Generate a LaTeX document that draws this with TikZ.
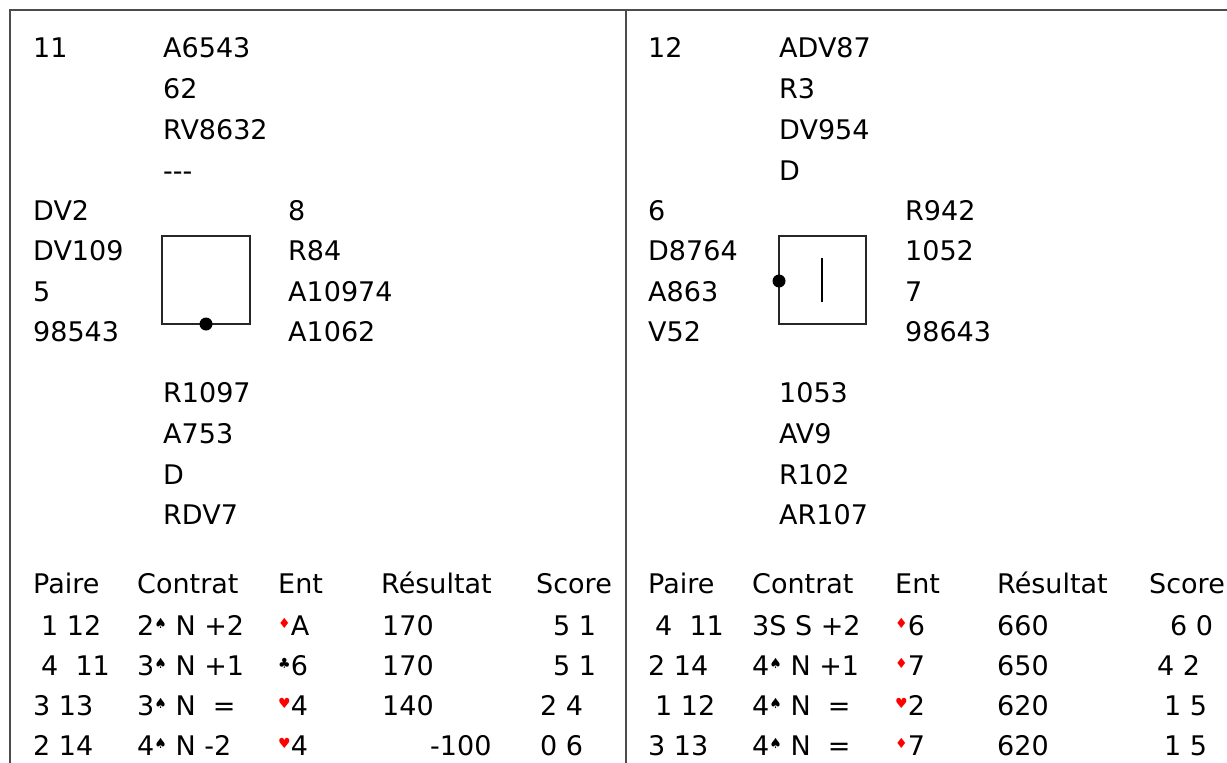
\documentclass[tikz,border=0pt]{standalone}
\usepackage{fontspec}
\setmainfont{DejaVu Sans}
\usepackage[]{xcolor}
\usepackage[]{tikz}

% suit signs, small and raised
\newcommand{\pique}{{\fontsize{14}{14}\selectfont\raisebox{0.85ex}{♠}}}
\newcommand{\trefle}{{\fontsize{14}{14}\selectfont\raisebox{0.85ex}{♣}}}
\newcommand{\coeur}{{\fontsize{14}{14}\selectfont\raisebox{0.85ex}{\textcolor{red}{♥}}}}
\newcommand{\carreau}{{\fontsize{14}{14}\selectfont\raisebox{0.85ex}{\textcolor{red}{♦}}}}

\begin{document}
\begin{tikzpicture}[x=1pt, y=-1pt, font=\fontsize{27}{32}\selectfont,
    txt/.style={anchor=base west, inner sep=0pt},
    frame/.style={black!70, line width=1.8pt},
    table/.style={black!85, line width=1.2pt}]
        \useasboundingbox (0, 0) rectangle (1227, 763);

        % frame
        \draw[frame] (10, 763) -- (10, 10) -- (1227, 10);
        \draw[frame] (626, 10) -- (626, 763);

        % ---- donne 11 ----
        \node[txt] (num11) at (33, 57) {11};
        \node[txt] (n11a) at (163, 57) {A6543};
        \node[txt] (n11b) at (163, 98) {62};
        \node[txt] (n11c) at (163, 139) {RV8632};
        \node[txt] (n11d) at (163, 180) {{-}{-}{-}};
        \node[txt] (w11a) at (33, 220) {DV2};
        \node[txt] (w11b) at (33, 260) {DV109};
        \node[txt] (w11c) at (33, 301) {5};
        \node[txt] (w11d) at (33, 341) {98543};
        \node[txt] (e11a) at (288, 220) {8};
        \node[txt] (e11b) at (288, 260) {R84};
        \node[txt] (e11c) at (288, 301) {A10974};
        \node[txt] (e11d) at (288, 341) {A1062};
        \node[txt] (s11a) at (163, 402) {R1097};
        \node[txt] (s11b) at (163, 443) {A753};
        \node[txt] (s11c) at (163, 484) {D};
        \node[txt] (s11d) at (163, 524) {RDV7};
        \draw[table] (162, 236) rectangle (250, 324);
        \fill (206, 324) circle (6.5);

        \node[txt] (h11a) at (33, 593) {Paire};
        \node[txt] (h11b) at (137, 593) {Contrat};
        \node[txt] (h11c) at (278, 593) {Ent};
        \node[txt] (h11d) at (381, 593) {Résultat};
        \node[txt] (h11e) at (536, 593) {Score};

        \node[txt] (p11a) at (41, 635) {1 12};
        \node[txt] (c11a) at (137, 635) {2\pique\ N +2};
        \node[txt] (l11a) at (278, 635) {\carreau A};
        \node[txt] (r11a) at (382, 635) {170};
        \node[txt] (t11a) at (553, 635) {5 1};

        \node[txt] (p11b) at (41, 675) {4~ 11};
        \node[txt] (c11b) at (137, 675) {3\pique\ N +1};
        \node[txt] (l11b) at (278, 675) {\trefle 6};
        \node[txt] (r11b) at (382, 675) {170};
        \node[txt] (t11b) at (553, 675) {5 1};

        \node[txt] (p11c) at (33, 715) {3 13};
        \node[txt] (c11c) at (137, 715) {3\pique\ N~ =};
        \node[txt] (l11c) at (278, 715) {\coeur 4};
        \node[txt] (r11c) at (382, 715) {140};
        \node[txt] (t11c) at (540, 715) {2 4};

        \node[txt] (p11d) at (33, 755) {2 14};
        \node[txt] (c11d) at (137, 755) {4\pique\ N -2};
        \node[txt] (l11d) at (278, 755) {\coeur 4};
        \node[txt] (r11d) at (430, 755) {-100};
        \node[txt] (t11d) at (540, 755) {0 6};

        % ---- donne 12 ----
        \node[txt] (num12) at (648, 57) {12};
        \node[txt] (n12a) at (779, 57) {ADV87};
        \node[txt] (n12b) at (779, 98) {R3};
        \node[txt] (n12c) at (779, 139) {DV954};
        \node[txt] (n12d) at (779, 180) {D};
        \node[txt] (w12a) at (648, 220) {6};
        \node[txt] (w12b) at (648, 260) {D8764};
        \node[txt] (w12c) at (648, 301) {A863};
        \node[txt] (w12d) at (648, 341) {V52};
        \node[txt] (e12a) at (905, 220) {R942};
        \node[txt] (e12b) at (905, 260) {1052};
        \node[txt] (e12c) at (905, 301) {7};
        \node[txt] (e12d) at (905, 341) {98643};
        \node[txt] (s12a) at (779, 402) {1053};
        \node[txt] (s12b) at (779, 443) {AV9};
        \node[txt] (s12c) at (779, 484) {R102};
        \node[txt] (s12d) at (779, 524) {AR107};
        \draw[table] (779, 236) rectangle (866, 324);
        \fill (779, 281) circle (6.5);
        \draw[line width=1.2pt] (822, 258) -- (822, 302);

        \node[txt] (h12a) at (648, 593) {Paire};
        \node[txt] (h12b) at (752, 593) {Contrat};
        \node[txt] (h12c) at (895, 593) {Ent};
        \node[txt] (h12d) at (997, 593) {Résultat};
        \node[txt] (h12e) at (1149, 593) {Score};

        \node[txt] (p12a) at (655, 635) {4~ 11};
        \node[txt] (c12a) at (752, 635) {3S S +2};
        \node[txt] (l12a) at (895, 635) {\carreau 6};
        \node[txt] (r12a) at (997, 635) {660};
        \node[txt] (t12a) at (1170, 635) {6 0};

        \node[txt] (p12b) at (648, 675) {2 14};
        \node[txt] (c12b) at (752, 675) {4\pique\ N +1};
        \node[txt] (l12b) at (895, 675) {\carreau 7};
        \node[txt] (r12b) at (997, 675) {650};
        \node[txt] (t12b) at (1157, 675) {4 2};

        \node[txt] (p12c) at (655, 715) {1 12};
        \node[txt] (c12c) at (752, 715) {4\pique\ N~ =};
        \node[txt] (l12c) at (895, 715) {\coeur 2};
        \node[txt] (r12c) at (997, 715) {620};
        \node[txt] (t12c) at (1164, 715) {1 5};

        \node[txt] (p12d) at (648, 755) {3 13};
        \node[txt] (c12d) at (752, 755) {4\pique\ N~ =};
        \node[txt] (l12d) at (895, 755) {\carreau 7};
        \node[txt] (r12d) at (997, 755) {620};
        \node[txt] (t12d) at (1164, 755) {1 5};
      \end{tikzpicture}
\end{document}
